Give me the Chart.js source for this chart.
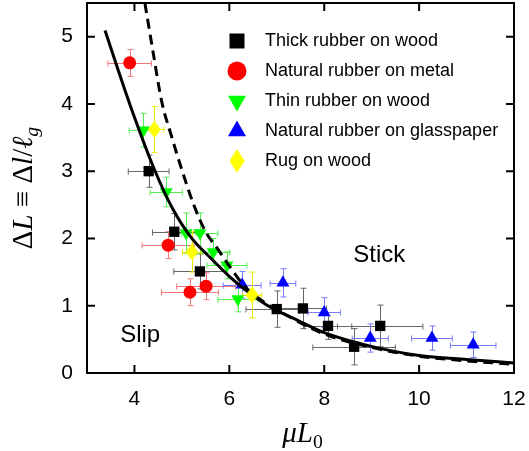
<!DOCTYPE html>
<html>
<head>
<meta charset="utf-8">
<script src="https://cdn.jsdelivr.net/npm/chart.js@4.4.1/dist/chart.umd.min.js"></script>
<style>
  html, body { margin: 0; padding: 0; background: #fff; }
  canvas { display: block; }
</style>
</head>
<body>
<canvas id="stickslip" width="529" height="451"></canvas>
<script>
const xTicks = [4, 6, 8, 10, 12];
const yTicks = [0, 1, 2, 3, 4, 5];

// Thick rubber on wood
const thickX = [4.30, 4.84, 5.38, 7.00, 7.55, 8.08, 8.63, 9.18];
const thickY = [3.00, 2.10, 1.51, 0.95, 0.96, 0.70, 0.39, 0.70];
const thickXErr = [0.43, 0.46, 0.55, 0.65, 0.50, 0.50, 0.87, 0.90];
const thickYErr = [0.24, 0.27, 0.26, 0.27, 0.30, 0.20, 0.27, 0.31];

// Natural rubber on metal
const metalX = [3.90, 4.71, 5.17, 5.51];
const metalY = [4.61, 1.90, 1.20, 1.29];
const metalXErr = [0.46, 0.55, 0.60, 0.62];
const metalYErr = [0.20, 0.20, 0.20, 0.20];

// Thin rubber on wood
const thinX = [4.19, 4.67, 5.09, 5.38, 5.66, 5.95, 6.18];
const thinY = [3.61, 2.69, 2.08, 2.08, 1.80, 1.60, 1.10];
const thinXErr = [0.30, 0.34, 0.30, 0.38, 0.35, 0.42, 0.42];
const thinYErr = [0.25, 0.22, 0.30, 0.30, 0.20, 0.20, 0.19];

// Natural rubber on glasspaper
const glassX = [6.27, 7.13, 8.00, 8.97, 10.27, 11.14];
const glassY = [1.31, 1.34, 0.90, 0.52, 0.52, 0.42];
const glassXErr = [0.40, 0.27, 0.34, 0.38, 0.43, 0.48];
const glassYErr = [0.20, 0.21, 0.22, 0.21, 0.18, 0.19];

// Rug on wood
const rugX = [4.42, 5.21, 6.48];
const rugY = [3.62, 1.80, 1.16];
const rugXErr = [0.20, 0.20, 0.20];
const rugYErr = [0.34, 0.30, 0.34];

// theory curves (solid and dashed)
const fitX = [3.38, 3.90, 4.43, 4.80, 5.21, 5.59, 6.01, 6.44, 6.86, 7.42, 8.00, 8.97, 10.0, 11.0, 12.0];
const fitY = [5.09, 4.00, 3.01, 2.45, 2.00, 1.72, 1.43, 1.18, 0.98, 0.79, 0.60, 0.40, 0.26, 0.20, 0.15];
const dashX = [4.22, 4.40, 4.57, 4.79, 5.00, 5.25, 5.50, 5.75, 6.01, 6.33, 6.72, 7.20, 8.00, 9.00, 10.0, 11.0, 12.0];
const dashY = [5.50, 4.74, 4.05, 3.50, 3.02, 2.50, 2.10, 1.85, 1.58, 1.28, 1.06, 0.86, 0.58, 0.38, 0.25, 0.18, 0.13];

const notes = [
  { text: 'Stick', x: 9.16, y: 1.75 },
  { text: 'Slip', x: 4.12, y: 0.56 }
];

const sans = "'Liberation Sans', Arial, sans-serif";
const serif = "'Liberation Serif', 'DejaVu Serif', serif";

const pts = (xs, ys) => xs.map((x, i) => ({ x: x, y: ys[i] }));

function diamond(w, h, color) {
  const c = document.createElement('canvas');
  c.width = w; c.height = h;
  const g = c.getContext('2d');
  g.fillStyle = color;
  g.beginPath();
  g.moveTo(w / 2, 0); g.lineTo(w, h / 2); g.lineTo(w / 2, h); g.lineTo(0, h / 2);
  g.closePath();
  g.fill();
  return c;
}

const rugMark = diamond(13, 17, '#ffff00');
const rugLegend = diamond(15, 24, '#ffff00');

function markers(label, xs, ys, xe, ye, color, errColor, style, radius, rotation, legendRadius, order) {
  return {
    label: label,
    data: pts(xs, ys),
    xErr: xe, yErr: ye,
    errColor: errColor,
    legendRadius: legendRadius,
    backgroundColor: color,
    borderColor: color,
    pointStyle: style,
    pointRadius: radius,
    pointRotation: rotation,
    pointBorderWidth: 0,
    showLine: false,
    order: order
  };
}

const datasets = [
  markers('Thick rubber on wood', thickX, thickY, thickXErr, thickYErr, '#000000', '#666666', 'rect', 7.3, 0, 10.6, 2),
  markers('Natural rubber on metal', metalX, metalY, metalXErr, metalYErr, '#ff0000', '#f07878', 'circle', 6.5, 0, 9.5, 2),
  markers('Thin rubber on wood', thinX, thinY, thinXErr, thinYErr, '#00ff00', '#55ee55', 'triangle', 7.5, 180, 10.4, 2),
  markers('Natural rubber on glasspaper', glassX, glassY, glassXErr, glassYErr, '#0000ff', '#7a7aff', 'triangle', 7.5, 0, 10.4, 2),
  markers('Rug on wood', rugX, rugY, rugXErr, rugYErr, '#ffff00', '#e8e800', rugMark, 8, 0, 0, 0),
  {
    label: 'fit', data: pts(fitX, fitY), showLine: true, pointRadius: 0,
    borderColor: '#000', borderWidth: 3, tension: 0.4, cubicInterpolationMode: 'monotone', order: 1
  },
  {
    label: 'dashed', data: pts(dashX, dashY), showLine: true, pointRadius: 0,
    borderColor: '#000', borderWidth: 3, borderDash: [10, 6], tension: 0.4, cubicInterpolationMode: 'monotone', order: 1
  }
];
datasets[4].legendStyle = rugLegend;

// error bars go under every marker
const errorBars = {
  id: 'errorBars',
  beforeDatasetsDraw(chart) {
    const ctx = chart.ctx, xs = chart.scales.x, ys = chart.scales.y;
    chart.data.datasets.forEach(ds => {
      if (!ds.xErr) return;
      ctx.save();
      ctx.strokeStyle = ds.errColor;
      ctx.lineWidth = 1;
      ctx.beginPath();
      ds.data.forEach((p, i) => {
        const px = Math.round(xs.getPixelForValue(p.x)) + 0.5;
        const py = Math.round(ys.getPixelForValue(p.y)) + 0.5;
        const x0 = xs.getPixelForValue(p.x - ds.xErr[i]);
        const x1 = xs.getPixelForValue(p.x + ds.xErr[i]);
        const y0 = ys.getPixelForValue(p.y - ds.yErr[i]);
        const y1 = ys.getPixelForValue(p.y + ds.yErr[i]);
        ctx.moveTo(x0, py); ctx.lineTo(x1, py);
        ctx.moveTo(px, y0); ctx.lineTo(px, y1);
        ctx.moveTo(x0, py - 3); ctx.lineTo(x0, py + 3);
        ctx.moveTo(x1, py - 3); ctx.lineTo(x1, py + 3);
        ctx.moveTo(px - 3, y0); ctx.lineTo(px + 3, y0);
        ctx.moveTo(px - 3, y1); ctx.lineTo(px + 3, y1);
      });
      ctx.stroke();
      ctx.restore();
    });
  }
};

function drawMath(ctx, parts, x, y, size) {
  const fontOf = p => (p.i ? 'italic ' : '') + (p.sub ? size * 0.68 : size) + 'px ' + serif;
  let w = 0;
  parts.forEach(p => { ctx.font = fontOf(p); w += ctx.measureText(p.t).width; });
  let cx = x - w / 2;
  parts.forEach(p => {
    ctx.font = fontOf(p);
    ctx.fillText(p.t, cx, y + (p.sub ? size * 0.22 : 0));
    cx += ctx.measureText(p.t).width;
  });
}

// frame, inward ticks, legend, labels
const decorations = {
  id: 'decorations',
  afterDraw(chart) {
    const ctx = chart.ctx, a = chart.chartArea, xs = chart.scales.x, ys = chart.scales.y;
    ctx.save();
    ctx.strokeStyle = '#000';
    ctx.lineWidth = 2;
    ctx.strokeRect(a.left, a.top, a.right - a.left, a.bottom - a.top);
    ctx.beginPath();
    xTicks.forEach(v => {
      const px = xs.getPixelForValue(v);
      ctx.moveTo(px, a.bottom); ctx.lineTo(px, a.bottom - 8);
      ctx.moveTo(px, a.top); ctx.lineTo(px, a.top + 8);
    });
    yTicks.forEach(v => {
      const py = ys.getPixelForValue(v);
      ctx.moveTo(a.left, py); ctx.lineTo(a.left + 8, py);
      ctx.moveTo(a.right, py); ctx.lineTo(a.right - 8, py);
    });
    ctx.stroke();

    // legend
    ctx.fillStyle = '#000';
    ctx.textBaseline = 'middle';
    ctx.textAlign = 'left';
    chart.data.datasets.slice(0, 5).forEach((ds, i) => {
      const ly = a.top + 38 + i * 30;
      const lx = a.left + 150;
      ctx.fillStyle = ds.backgroundColor;
      Chart.helpers.drawPoint(ctx, {
        pointStyle: ds.legendStyle || ds.pointStyle,
        radius: ds.legendRadius, rotation: ds.pointRotation, borderWidth: 0
      }, lx, ly);
      ctx.fillStyle = '#000';
      ctx.font = '18px ' + sans;
      ctx.fillText(ds.label, lx + 28, ly);
    });

    // region labels
    ctx.textAlign = 'center';
    ctx.font = '24px ' + sans;
    notes.forEach(n => ctx.fillText(n.text, xs.getPixelForValue(n.x), ys.getPixelForValue(n.y)));

    // axis titles
    ctx.textAlign = 'left';
    ctx.textBaseline = 'alphabetic';
    drawMath(ctx, [{ t: 'μ', i: 1 }, { t: 'L', i: 1 }, { t: '0', sub: 1 }], (a.left + a.right) / 2 + 2, 442, 29);
    ctx.translate(32, (a.top + a.bottom) / 2);
    ctx.rotate(-Math.PI / 2);
    drawMath(ctx, [{ t: 'Δ' }, { t: 'L', i: 1 }, { t: ' ≡ Δ' }, { t: 'l', i: 1 }, { t: '/' },
      { t: 'ℓ', i: 1 }, { t: 'g', i: 1, sub: 1 }], 0, 0, 29);
    ctx.restore();
  }
};

const noPad = s => { s.paddingLeft = 0; s.paddingRight = 0; s.paddingTop = 0; s.paddingBottom = 0; };

new Chart(document.getElementById('stickslip'), {
  type: 'scatter',
  data: { datasets: datasets },
  options: {
    responsive: false,
    animation: false,
    devicePixelRatio: 1,
    layout: { autoPadding: false, padding: { top: 3, right: 15, left: 0, bottom: 0 } },
    plugins: { legend: { display: false }, tooltip: { enabled: false } },
    scales: {
      x: {
        type: 'linear', min: 3, max: 12,
        grid: { display: false, drawTicks: false },
        border: { display: false },
        ticks: { font: { family: sans, size: 21 }, color: '#000', padding: 14 },
        afterBuildTicks: s => { s.ticks = xTicks.map(v => ({ value: v })); },
        afterFit: s => { s.height = 78; noPad(s); }
      },
      y: {
        type: 'linear', min: 0, max: 5.5,
        grid: { display: false, drawTicks: false },
        border: { display: false },
        ticks: { font: { family: sans, size: 21 }, color: '#000', padding: 14 },
        afterBuildTicks: s => { s.ticks = yTicks.map(v => ({ value: v })); },
        afterFit: s => { s.width = 87; noPad(s); }
      }
    }
  },
  plugins: [errorBars, decorations]
});
</script>
</body>
</html>
